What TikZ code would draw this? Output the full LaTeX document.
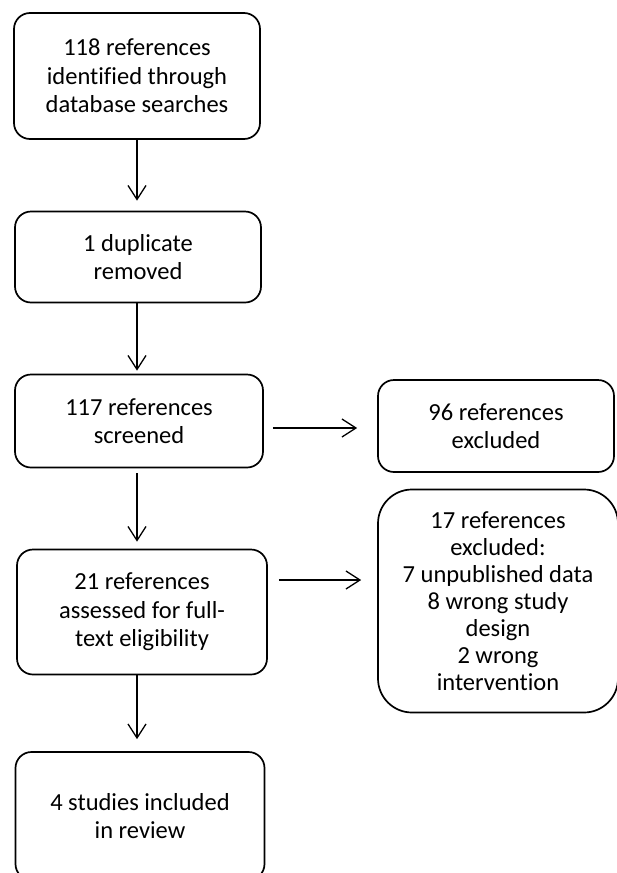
\documentclass[tikz,border=0pt]{standalone}
\usepackage{fontspec}
\setmainfont[Ligatures=NoCommon]{Carlito}
\usetikzlibrary{arrows.meta, positioning}

\begin{document}
\begin{tikzpicture}[x=1pt, y=-1pt,
    box/.style={draw, line width=1.7pt, rounded corners=16pt, align=center, font=\fontsize{24.5}{28.5}\selectfont, minimum width=246pt, inner sep=2pt},
    side/.style={box, minimum width=236pt},
    arr/.style={-{Straight Barb[length=14pt, width=18pt]}, line width=1.3pt}
]
\useasboundingbox (0,0) rectangle (616,873);

\node[box, minimum height=126pt] (search) at (137,76) {118 references\\identified through\\database searches};
\node[box, minimum height=91pt] (dup) at (138,257) {1 duplicate\\removed};
\node[box, minimum width=248pt, minimum height=93pt] (screen) at (139,421) {117 references\\screened};
\node[box, minimum width=250pt, minimum height=125pt] (assess) at (142,612) {21 references\\assessed for full-\\text eligibility};
\node[box, minimum width=249pt, minimum height=128pt] (incl) at (140,816) {4 studies included\\in review};

\node[side, minimum height=92pt] (excl) at (496,426) {96 references\\excluded};
\node[side, minimum width=240pt, minimum height=223pt, rounded corners=34pt, font=\fontsize{24.5}{27}\selectfont] (exclft) at (498,601) {17 references\\excluded:\\7 unpublished data\\8 wrong study\\design\\2 wrong\\intervention};

\draw[arr, shorten >=10pt] (search.south) -- (search.south |- dup.north);
\draw[arr, shorten >=3pt] (search.south |- dup.south) -- (search.south |- screen.north);
\draw[arr, shorten <=5pt, shorten >=7pt] (search.south |- screen.south) -- (search.south |- assess.north);
\draw[arr, shorten >=12pt] (search.south |- assess.south) -- (search.south |- incl.north);

\draw[arr, shorten <=9pt, shorten >=20pt] ([yshift=-7pt]screen.east) -- ([yshift=-7pt]screen.east -| excl.west);
\draw[arr, shorten <=11pt, shorten >=16pt] ([yshift=32pt]assess.east) -- ([yshift=32pt]assess.east -| exclft.west);
\end{tikzpicture}
\end{document}
